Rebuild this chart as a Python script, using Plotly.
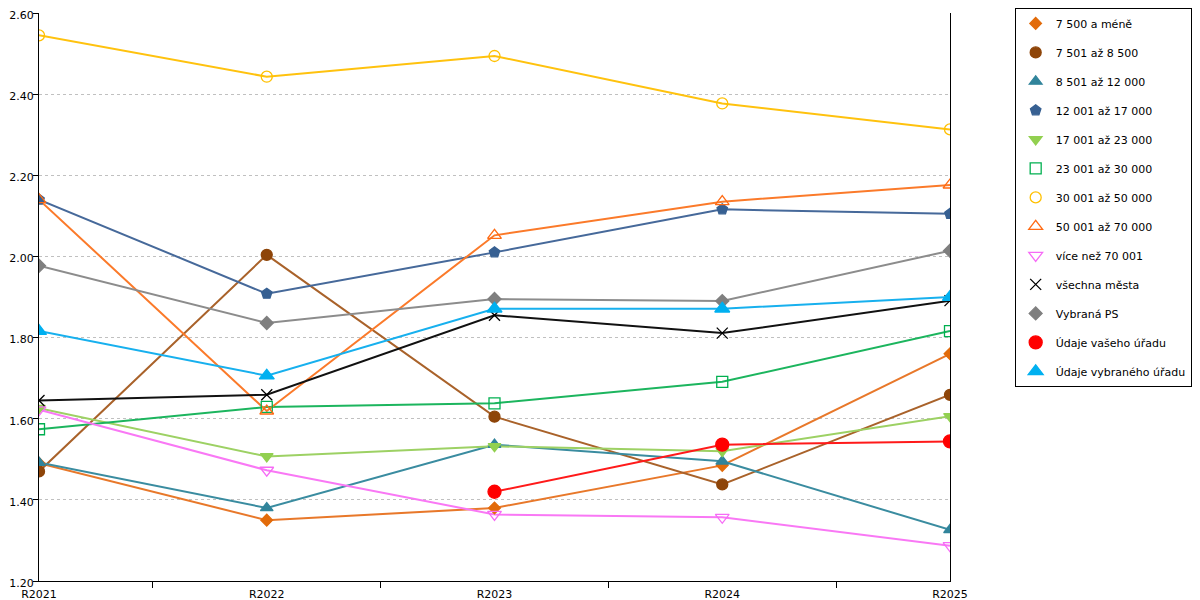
import plotly.graph_objects as go

years = ["R2021", "R2022", "R2023", "R2024", "R2025"]

names = [
    "7 500 a méně",
    "7 501 až 8 500",
    "8 501 až 12 000",
    "12 001 až 17 000",
    "17 001 až 23 000",
    "23 001 až 30 000",
    "30 001 až 50 000",
    "50 001 až 70 000",
    "více než 70 001",
    "všechna města",
    "Vybraná PS",
    "Údaje vašeho úřadu",
    "Údaje vybraného úřadu",
]

s_7500 = [1.490, 1.350, 1.380, 1.485, 1.760]
s_8500 = [1.470, 2.004, 1.605, 1.438, 1.659]
s_12000 = [1.492, 1.380, 1.536, 1.495, 1.326]
s_17000 = [2.140, 1.908, 2.010, 2.116, 2.105]
s_23000 = [1.626, 1.507, 1.532, 1.520, 1.606]
s_30000 = [1.574, 1.629, 1.638, 1.691, 1.816]
s_50000 = [2.545, 2.443, 2.494, 2.377, 2.313]
s_70000 = [2.140, 1.619, 2.052, 2.135, 2.176]
s_over = [1.622, 1.473, 1.364, 1.357, 1.287]
s_all = [1.645, 1.659, 1.855, 1.811, 1.891]
s_ps = [1.977, 1.836, 1.895, 1.890, 2.014]
s_vas = [None, None, 1.420, 1.536, 1.544]
s_vyb = [1.816, 1.706, 1.871, 1.871, 1.900]

values = [s_7500, s_8500, s_12000, s_17000, s_23000, s_30000, s_50000,
          s_70000, s_over, s_all, s_ps, s_vas, s_vyb]

# (line colour, marker colour, symbol, size)
styles = [
    ("#E8782A", "#E26B0A", "diamond", 9),
    ("#A9622A", "#8E4509", "circle", 11),
    ("#3A8CA0", "#31849B", "triangle-up", 11),
    ("#46699A", "#376092", "pentagon", 11),
    ("#9DD164", "#92D050", "triangle-down", 11),
    ("#1CB55E", "#00B050", "square-open", 11),
    ("#FFC20E", "#FFC000", "circle-open", 11),
    ("#FB7A2A", "#FF6A13", "triangle-up-open", 12),
    ("#F978F5", "#F66BF6", "triangle-down-open", 12),
    ("#111111", "#000000", "x-thin-open", 11),
    ("#8C8C8C", "#7F7F7F", "diamond", 10),
    ("#FF1A1A", "#FF0000", "circle", 13),
    ("#17B0EE", "#00B0F0", "triangle-up", 13),
]

fig = go.Figure()

# lines first, markers on top (legend shows markers only)
for i, (name, vals) in enumerate(zip(names, values)):
    lc, mc, sym, size = styles[i]
    fig.add_trace(go.Scatter(
        x=years, y=vals, mode="lines",
        line=dict(color=lc, width=2),
        showlegend=False, hoverinfo="skip",
    ))

for i, (name, vals) in enumerate(zip(names, values)):
    lc, mc, sym, size = styles[i]
    fig.add_trace(go.Scatter(
        x=years, y=vals, mode="markers", name=name,
        legendgroup="g%d" % i,
        marker=dict(symbol=sym, size=size, color=mc,
                    line=dict(color=mc, width=1.3)),
    ))

# page adds an 8px body margin, so the figure is a bit smaller than the window
fig.update_layout(
    width=1192, height=592,
    margin=dict(l=31, r=250, t=5, b=19, autoexpand=False),
    paper_bgcolor="white", plot_bgcolor="white",
    font=dict(family="DejaVu Sans", size=11, color="#000000"),
    xaxis=dict(
        type="category", range=[0, 4],
        tickson="boundaries", ticks="outside", ticklen=6,
        tickcolor="black", showline=True, linecolor="black", linewidth=1,
        showgrid=False, zeroline=False, automargin=False,
        ticklabelstandoff=3,
    ),
    yaxis=dict(
        range=[1.2, 2.6], dtick=0.2, tickformat=".2f",
        ticks="outside", ticklen=5, tickcolor="black",
        showline=True, linecolor="black", linewidth=1, mirror=True,
        showgrid=True, gridcolor="#C0C0C0", griddash="dot", gridwidth=1,
        zeroline=False, automargin=False,
        ticklabelstandoff=-3, ticklabeloverflow="allow", ticklabelshift=2,
    ),
    legend=dict(
        x=1.071, y=1.009, xanchor="left", yanchor="top",
        bordercolor="black", borderwidth=1, bgcolor="white",
        tracegroupgap=10, font=dict(size=11), maxheight=600,
    ),
)

fig.write_html("out.html")
